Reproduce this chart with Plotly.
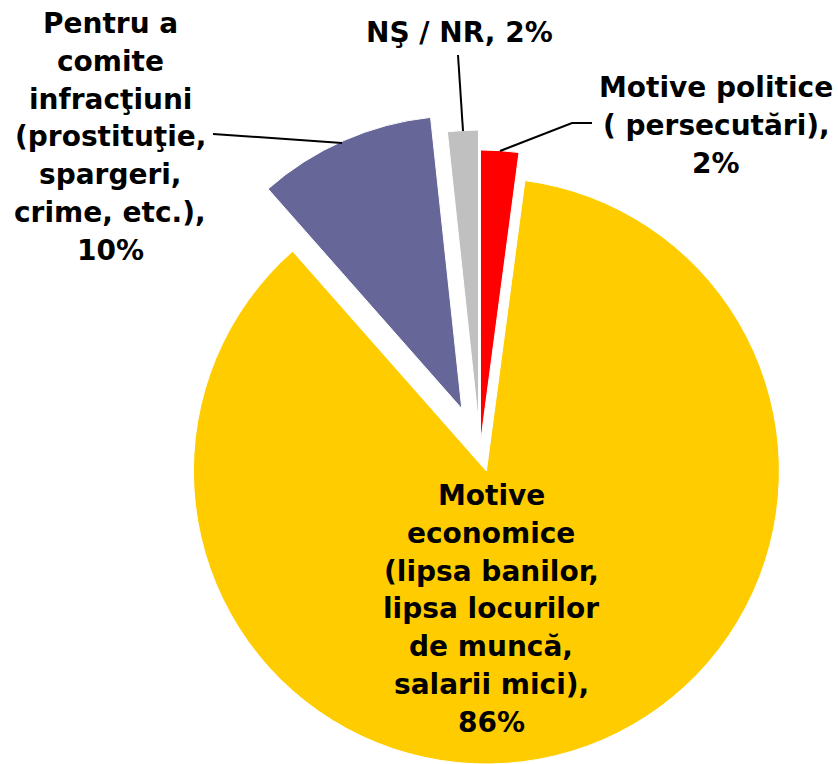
import math
import plotly.graph_objects as go

W, H = 838, 764

# ---- data ----
categories = ["Motive politice ( persecutări)", "Motive economice (lipsa banilor, lipsa locurilor de muncă, salarii mici)",
              "Pentru a comite infracţiuni (prostituţie, spargeri, crime, etc.)", "NŞ / NR"]
values = [2.1, 86.4, 9.8, 1.7]
label_lines = [
    ["Motive politice", "( persecutări),", "2%"],
    ["Motive", "economice", "(lipsa banilor,", "lipsa locurilor", "de muncă,", "salarii mici),", "86%"],
    ["Pentru a", "comite", "infracţiuni", "(prostituţie,", "spargeri,", "crime, etc.),", "10%"],
    ["NŞ / NR, 2%"],
]

# ---- style ----
colors = ["#FF0000", "#FFCC00", "#666699", "#C0C0C0"]
pulls = [0.024, 0.075, 0.154, 0.092]   # fraction of radius
CX, CY, R = 480, 450, 293              # pie centre / radius in px
FS = 28
LINE_H = 37.8
label_pos = [(716, 97), (491, 505), (110, 33), (460, 42)]  # centre x, first baseline y (px)
leaders = [
    [(500, 151), (572, 123), (592, 123)],
    None,
    [(342, 143), (213, 134)],
    [(463, 131), (458, 55)],
]

fig = go.Figure()
total = sum(values)
cum = 0
for k, v in enumerate(values):
    mid = (cum + v / 2) / total * 2 * math.pi
    cum += v
    off = pulls[k] * R
    cx = CX + off * math.sin(mid)
    cy = CY - off * math.cos(mid)
    dx = [max(0, (cx - R) / W), min(1, (cx + R) / W)]
    dy = [max(0, 1 - (cy + R) / H), min(1, 1 - (cy - R) / H)]
    fig.add_trace(go.Pie(
        labels=categories, values=values, sort=False, direction="clockwise", rotation=0,
        marker=dict(colors=[colors[i] if i == k else "rgba(0,0,0,0)" for i in range(len(values))],
                    line=dict(color="white", width=[1 if i == k else 0 for i in range(len(values))])),
        textinfo="none", hoverinfo="label+percent", showlegend=False,
        domain=dict(x=dx, y=dy),
    ))

for lines, (lx, ly) in zip(label_lines, label_pos):
    for j, t in enumerate(lines):
        yb = ly + j * LINE_H
        fig.add_annotation(x=lx / W, y=1 - (yb - 9.5) / H, xref="paper", yref="paper",
                           text=t, showarrow=False, xanchor="center", yanchor="middle",
                           font=dict(family="DejaVu Sans", size=FS, color="black", weight="bold"))

for pts in leaders:
    if not pts:
        continue
    path = "M " + " L ".join(f"{x / W} {1 - y / H}" for x, y in pts)
    fig.add_shape(type="path", path=path, xref="paper", yref="paper",
                  line=dict(color="black", width=2))

fig.update_layout(width=W, height=H, margin=dict(l=0, r=0, t=0, b=0),
                  paper_bgcolor="white", plot_bgcolor="white")
fig.write_html("out.html", config={"displayModeBar": False},
               post_script="document.body.style.margin='0';document.body.style.overflow='hidden';")
